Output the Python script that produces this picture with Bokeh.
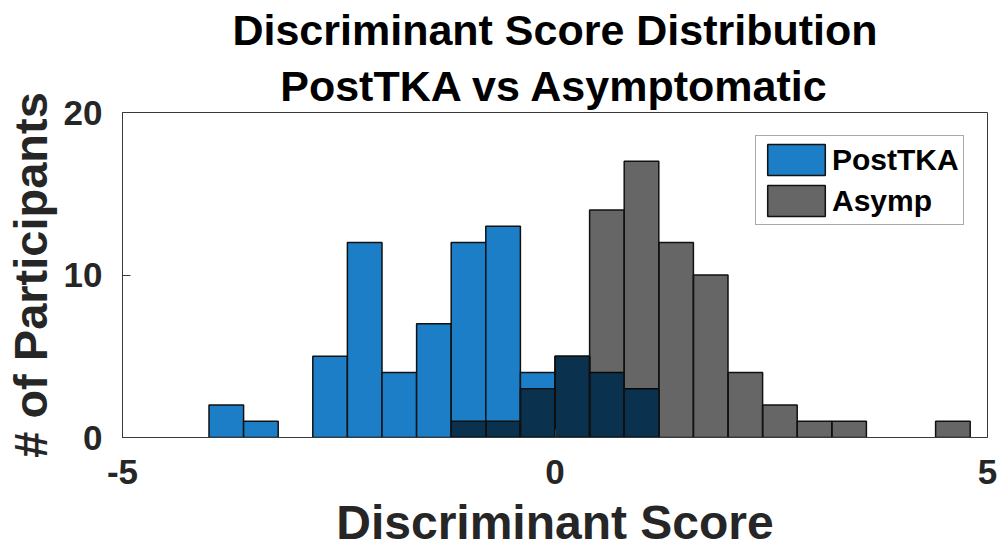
from bokeh.plotting import figure
from bokeh.models import Range1d, FixedTicker, Title, Legend, LegendItem, ColumnDataSource
from bokeh.embed import file_html
from bokeh.resources import INLINE

# ---- data ----
bin_edges = [-4.0, -3.6, -3.2, -2.8, -2.4, -2.0, -1.6, -1.2, -0.8, -0.4, 0.0,
             0.4, 0.8, 1.2, 1.6, 2.0, 2.4, 2.8, 3.2, 3.6, 4.0, 4.4, 4.8]
posttka_counts = [2, 1, 0, 5, 12, 4, 7, 12, 13, 4, 5, 4, 3, 0, 0, 0, 0, 0, 0, 0, 0, 0]
asymp_counts = [0, 0, 0, 0, 0, 0, 0, 1, 1, 3, 5, 14, 17, 12, 10, 4, 2, 1, 1, 0, 0, 1]
x_ticks = [-5, 0, 5]
x_tick_labels = {-5: "-5", 0: "0", 5: "5"}
y_ticks = [0, 10, 20]
title_lines = ["Discriminant Score Distribution", "PostTKA vs Asymptomatic"]
series_names = ["PostTKA", "Asymp"]


def hist_source(counts):
    left, right, top = [], [], []
    for i, c in enumerate(counts):
        if c > 0:
            left.append(bin_edges[i])
            right.append(bin_edges[i + 1])
            top.append(c)
    return ColumnDataSource(dict(left=left, right=right, top=top, bottom=[0] * len(top)))


FONT = "Liberation Sans"

p = figure(width=1003, height=552, output_backend="svg", toolbar_location=None,
           title=None, x_range=Range1d(-5, 5), y_range=Range1d(0, 20),
           min_border_left=122, min_border_right=16, min_border_top=112,
           min_border_bottom=115)
p.background_fill_color = "white"
p.border_fill_color = "white"
p.xgrid.visible = False
p.ygrid.visible = False
p.outline_line_color = "#3a3a3a"
p.outline_line_width = 1

r1 = p.quad(left="left", right="right", top="top", bottom="bottom",
            source=hist_source(posttka_counts), fill_color="#1b7ec6",
            line_color="#111111", line_width=1.5)
r2 = p.quad(left="left", right="right", top="top", bottom="bottom",
            source=hist_source(asymp_counts), fill_color="black", fill_alpha=0.6,
            line_color="#111111", line_width=1.5)

for ax in (p.xaxis[0], p.yaxis[0]):
    ax.major_label_text_font = FONT
    ax.major_label_text_font_style = "bold"
    ax.major_label_text_font_size = "35px"
    ax.major_label_text_color = "#262626"
    ax.axis_label_text_font = FONT
    ax.axis_label_text_font_style = "bold"
    ax.axis_label_text_color = "#262626"
    ax.axis_line_color = "#3a3a3a"
    ax.major_tick_line_color = "#3a3a3a"
    ax.major_tick_in = 8
    ax.major_tick_out = 0
    ax.minor_tick_in = 0
    ax.minor_tick_out = 0

p.xaxis.axis_label_text_font_size = "48px"
p.yaxis.axis_label_text_font_size = "47px"
p.xaxis.ticker = FixedTicker(ticks=x_ticks)
p.xaxis.major_label_overrides = x_tick_labels
p.yaxis.ticker = FixedTicker(ticks=y_ticks)
p.xaxis.axis_label = "Discriminant Score"
p.yaxis.axis_label = "# of Participants"
p.xaxis.major_label_standoff = 22
p.yaxis.major_label_standoff = 20
p.xaxis.axis_label_standoff = 9
p.yaxis.axis_label_standoff = 4

# titles (two lines): first added sits closest to the plot frame
p.add_layout(Title(text=title_lines[1], align="center", text_font=FONT,
                   text_font_style="bold", text_font_size="43px",
                   text_color="black", standoff=6), "above")
p.add_layout(Title(text=title_lines[0], align="center", text_font=FONT,
                   text_font_style="bold", text_font_size="43px",
                   text_color="black", standoff=5), "above")

legend = Legend(items=[LegendItem(label=series_names[0], renderers=[r1]),
                       LegendItem(label=series_names[1], renderers=[r2])],
                location=(633, 212))
legend.label_text_font = FONT
legend.label_text_font_style = "bold"
legend.label_text_font_size = "30px"
legend.label_text_color = "black"
legend.glyph_width = 72
legend.glyph_height = 39
legend.label_height = 39
legend.label_standoff = 0
legend.padding = 4
legend.spacing = 2
legend.margin = 0
legend.border_line_color = "#555555"
legend.border_line_width = 1
legend.background_fill_alpha = 1
p.add_layout(legend, "center")

open("out.html", "w").write(file_html(p, INLINE))
